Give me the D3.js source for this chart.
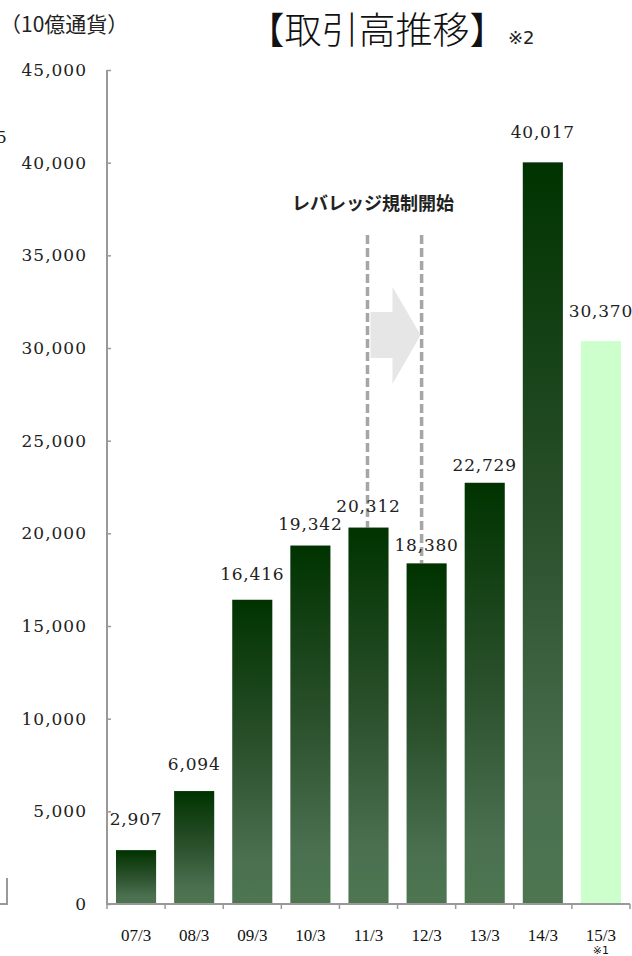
<!DOCTYPE html>
<html>
<head>
<meta charset="utf-8">
<script src="https://cdn.jsdelivr.net/npm/d3@7"></script>
<style>
  html, body { margin: 0; padding: 0; background: #fff; }
  svg { display: block; }
</style>
</head>
<body>
<svg id="chart" width="632" height="956"></svg>
<script>
// Trading volume by fiscal period (unit: billion currency units)
const periods = ["07/3", "08/3", "09/3", "10/3", "11/3", "12/3", "13/3", "14/3", "15/3"];
const volumes = [2907, 6094, 16416, 19342, 20312, 18380, 22729, 40017, 30370];
const periodNotes = ["", "", "", "", "", "", "", "", "※1"];
const forecastFlags = [false, false, false, false, false, false, false, false, true];
const yTicks = [0, 5000, 10000, 15000, 20000, 25000, 30000, 35000, 40000, 45000];
// periods bracketing the start of leverage regulation
const regulationPeriods = ["11/3", "12/3"];

// label lift above each bar top (layout only)
const labelLift = [31, 27, 26, 22, 22, 18, 18, 30, 30];

const svg = d3.select("#chart");
const plotLeft = 107, plotRight = 630, plotTop = 70, plotBottom = 904;

const x = d3.scaleBand().domain(periods).range([plotLeft, plotRight]).paddingInner(0.31).paddingOuter(0.155);
const y = d3.scaleLinear().domain([0, 45000]).range([plotBottom, plotTop]);

const defs = svg.append("defs");
const grad = defs.append("linearGradient").attr("id", "barGrad")
  .attr("x1", 0).attr("y1", 0).attr("x2", 0).attr("y2", 1);
grad.append("stop").attr("offset", "0%").attr("stop-color", "#003300");
grad.append("stop").attr("offset", "50%").attr("stop-color", "#2c512d");
grad.append("stop").attr("offset", "85%").attr("stop-color", "#4a7050");
grad.append("stop").attr("offset", "100%").attr("stop-color", "#4d7650");

const fmt = d3.format(",");
const numFont = "'DejaVu Serif', serif";

// fragment of a neighbouring panel at the left edge
svg.append("text").attr("x", -4).attr("y", 143).attr("font-family", numFont)
  .attr("font-size", 17).attr("fill", "#222").text("5");
svg.append("path").attr("d", "M0,904H7V878").attr("fill", "none")
  .attr("stroke", "#999").attr("stroke-width", 2);

// unit label and title
svg.append("text").attr("x", 0).attr("y", 32)
  .attr("font-family", "'Noto Sans CJK JP', sans-serif").attr("font-size", 21)
  .attr("fill", "#222").text("（10億通貨）");
svg.append("text").attr("x", 377).attr("y", 44).attr("text-anchor", "middle")
  .attr("font-family", "'Noto Sans CJK JP', sans-serif").attr("font-size", 37)
  .attr("font-weight", 300).attr("fill", "#111").text("【取引高推移】");
svg.append("text").attr("x", 508).attr("y", 44)
  .attr("font-family", "'DejaVu Sans', sans-serif").attr("font-size", 18)
  .attr("fill", "#222").text("※2");

// regulation markers: dashed guides and arrow
const guideX = [x(regulationPeriods[0]) + x.bandwidth() / 2 - 1, x(regulationPeriods[1]) + x.bandwidth() / 2 - 5];
regulationPeriods.forEach((p, i) => {
  const v = volumes[periods.indexOf(p)];
  svg.append("line").attr("x1", guideX[i]).attr("x2", guideX[i])
    .attr("y1", 235).attr("y2", y(v))
    .attr("stroke", "#a6a6a6").attr("stroke-width", 3.5).attr("stroke-dasharray", "9,4");
});
const ax0 = guideX[0] + 3, ax1 = guideX[1] - 1;
svg.append("path")
  .attr("d", `M${ax0},312H${ax0 + 22}V287L${ax1},335L${ax0 + 22},384V358H${ax0}Z`)
  .attr("fill", "#e6e6e6");
svg.append("text").attr("x", 373).attr("y", 210).attr("text-anchor", "middle")
  .attr("font-family", "'Noto Sans CJK JP', sans-serif").attr("font-size", 18)
  .attr("font-weight", "bold").attr("fill", "#222").text("レバレッジ規制開始");

// bars
svg.append("g").selectAll("rect").data(periods).join("rect")
  .attr("x", d => x(d))
  .attr("y", (d, i) => y(volumes[i]))
  .attr("width", x.bandwidth())
  .attr("height", (d, i) => y(0) - y(volumes[i]))
  .attr("fill", (d, i) => forecastFlags[i] ? "#ccffcc" : "url(#barGrad)");

// value labels
svg.append("g").selectAll("text").data(periods).join("text")
  .attr("x", d => x(d) + x.bandwidth() / 2)
  .attr("y", (d, i) => y(volumes[i]) - labelLift[i] + 6)
  .attr("text-anchor", "middle")
  .attr("font-family", numFont).attr("font-size", 17).attr("letter-spacing", 0.8)
  .attr("fill", "#222")
  .text((d, i) => fmt(volumes[i]));

// y axis
const yAxis = svg.append("g").attr("transform", `translate(${plotLeft},0)`)
  .call(d3.axisRight(y).tickValues(yTicks).tickSize(4).tickFormat(d => fmt(d)));
yAxis.select(".domain").attr("stroke", "#999").attr("stroke-width", 2).attr("d", `M0,${plotTop}V${plotBottom}`);
yAxis.selectAll(".tick line").attr("stroke", "#999").attr("stroke-width", 1.5);
yAxis.selectAll(".tick text").attr("x", -20).attr("text-anchor", "end")
  .attr("font-family", numFont).attr("font-size", 17).attr("letter-spacing", 1).attr("fill", "#222");

// x axis
const xg = svg.append("g").attr("transform", `translate(0,${plotBottom})`);
xg.append("line").attr("x1", plotLeft - 1).attr("x2", plotRight).attr("stroke", "#999").attr("stroke-width", 2);
const step = x.step();
const edges = d3.range(periods.length + 1).map(i => x(periods[0]) - x.paddingOuter() * step + i * step);
xg.selectAll("line.tk").data(edges).join("line").attr("class", "tk")
  .attr("x1", d => d).attr("x2", d => d).attr("y1", 0).attr("y2", 5)
  .attr("stroke", "#999").attr("stroke-width", 1.5);
xg.selectAll("text.lbl").data(periods).join("text").attr("class", "lbl")
  .attr("x", d => x(d) + x.bandwidth() / 2).attr("y", 37)
  .attr("text-anchor", "middle").attr("font-family", "'Liberation Serif', serif")
  .attr("font-size", 17).attr("fill", "#111").text(d => d);
xg.selectAll("text.note").data(periods).join("text").attr("class", "note")
  .attr("x", d => x(d) + x.bandwidth() / 2).attr("y", 50)
  .attr("text-anchor", "middle").attr("font-family", "'DejaVu Sans', sans-serif")
  .attr("font-size", 11).attr("fill", "#111").text((d, i) => periodNotes[i]);
</script>
</body>
</html>
